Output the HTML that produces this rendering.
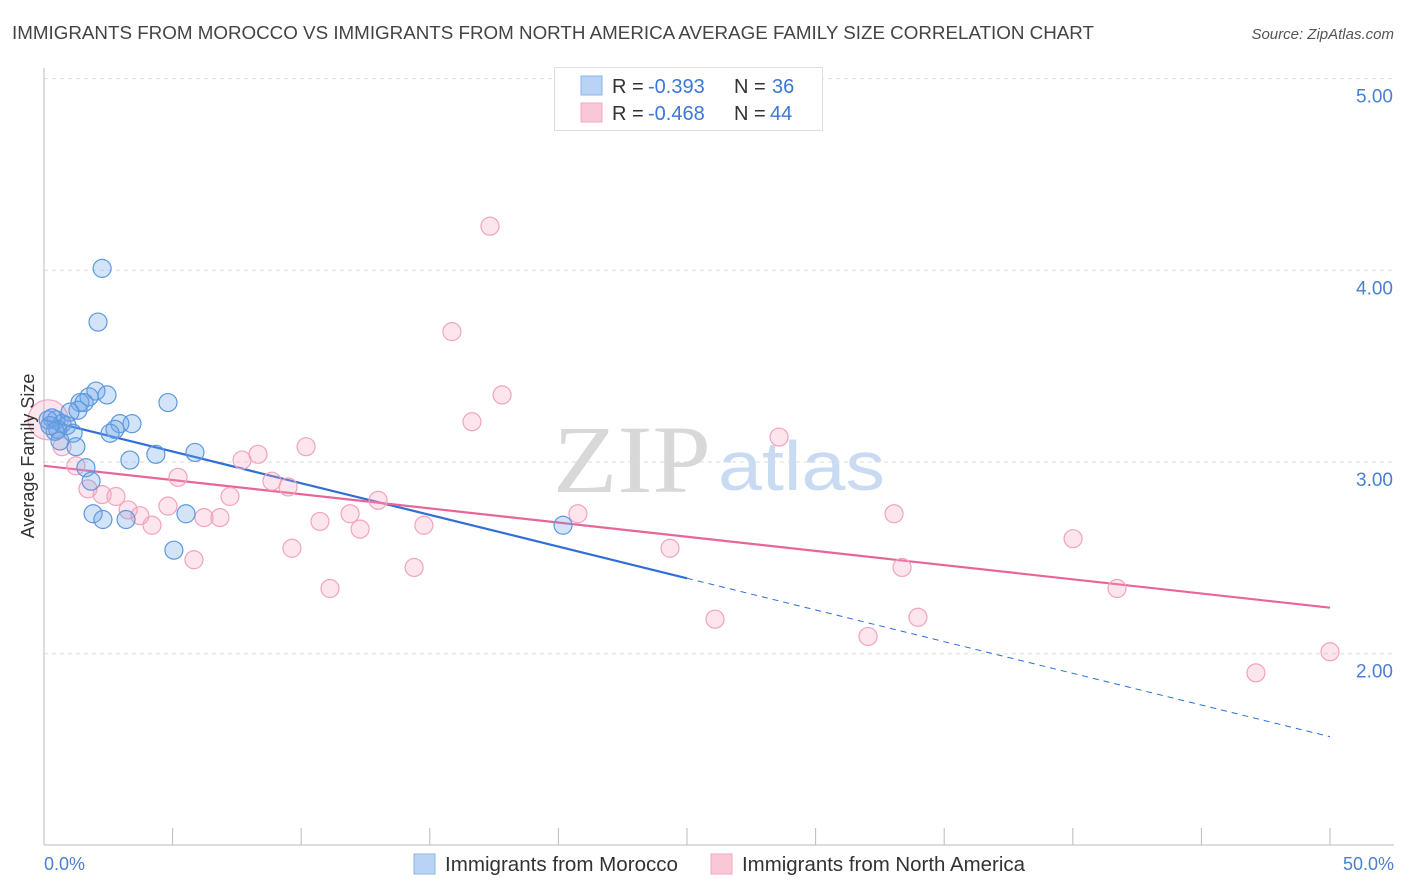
<!DOCTYPE html>
<html><head><meta charset="utf-8"><style>
body{margin:0;background:#fff;font-family:"Liberation Sans",sans-serif;}
svg{display:block}
</style></head><body>
<svg id="chart" width="1406" height="892">
<text x="12" y="39" font-size="18" fill="#444" textLength="1082" lengthAdjust="spacingAndGlyphs">IMMIGRANTS FROM MOROCCO VS IMMIGRANTS FROM NORTH AMERICA AVERAGE FAMILY SIZE CORRELATION CHART</text>
<text x="1394" y="39" font-size="15" fill="#555" font-style="italic" text-anchor="end">Source: ZipAtlas.com</text>
<g>
<text x="553" y="492" font-family="Liberation Serif,serif" font-size="96" fill="#d8d8d8" textLength="158" lengthAdjust="spacingAndGlyphs">ZIP</text>
<text x="718" y="490" font-size="70" fill="#c9dbf2" textLength="167" lengthAdjust="spacingAndGlyphs">atlas</text>
</g>
<g id="grid"></g>
<g id="axes"></g>
<g id="lines"></g>
<g id="points"></g>
<text transform="translate(34,456) rotate(-90)" font-size="18" fill="#333" text-anchor="middle">Average Family Size</text>
<text x="44" y="870" font-size="18" fill="#4a7fd4">0.0%</text>
<text x="1394" y="870" font-size="18" fill="#4a7fd4" text-anchor="end">50.0%</text>
<g>
<rect x="554.5" y="67.5" width="268" height="63" fill="#fff" stroke="#ddd"/>
<rect x="581" y="76" width="21" height="19" fill="#b9d3f5" stroke="#8ab4ea"/>
<rect x="581" y="103" width="21" height="19" fill="#f9c8d7" stroke="#f2a7be"/>
<text x="612" y="93" font-size="20" fill="#333">R = <tspan x="648" fill="#3b78d8">-0.393</tspan><tspan x="734">N = </tspan><tspan x="772" fill="#3b78d8">36</tspan></text>
<text x="612" y="120" font-size="20" fill="#333">R = <tspan x="648" fill="#3b78d8">-0.468</tspan><tspan x="734">N = </tspan><tspan x="770" fill="#3b78d8">44</tspan></text>
</g>
<g>
<rect x="414" y="854" width="21" height="20" fill="#b9d3f5" stroke="#8ab4ea"/>
<text x="445" y="871" font-size="20" fill="#333" textLength="233" lengthAdjust="spacingAndGlyphs">Immigrants from Morocco</text>
<rect x="711" y="854" width="21" height="20" fill="#f9c8d7" stroke="#f2a7be"/>
<text x="742" y="871" font-size="20" fill="#333" textLength="283" lengthAdjust="spacingAndGlyphs">Immigrants from North America</text>
</g>
</svg>
<script>
const yTicks=[2,3,4,5];
const yTickLabels=["2.00","3.00","4.00","5.00"];
const xTicks=[0,5,10,15,20,25,30,35,40,45,50];
const moroccoX=[2.26,2.10,2.02,2.45,1.75,1.40,1.56,1.32,1.01,0.31,0.47,0.70,0.89,0.16,0.54,1.13,0.43,2.95,3.42,2.76,2.57,4.82,1.24,3.34,4.35,5.87,1.63,1.83,1.91,2.29,3.19,5.52,5.05,20.18,0.62,0.23];
const moroccoY=[4.01,3.73,3.37,3.35,3.34,3.31,3.31,3.27,3.26,3.23,3.22,3.20,3.19,3.22,3.17,3.15,3.16,3.20,3.20,3.17,3.15,3.31,3.08,3.01,3.04,3.05,2.97,2.90,2.73,2.70,2.70,2.73,2.54,2.67,3.11,3.19];
const naX=[17.34,15.86,17.81,16.64,28.58,10.19,8.32,7.70,5.21,1.24,0.70,1.71,2.26,2.80,4.82,3.27,3.73,4.20,6.22,6.84,7.23,8.86,9.49,12.99,11.90,10.73,12.29,14.77,20.76,9.64,5.83,14.39,11.12,24.34,26.09,33.05,33.36,33.98,32.04,40.01,41.72,47.12,50.0,0.16];
const naY=[4.23,3.68,3.35,3.21,3.13,3.08,3.04,3.01,2.92,2.98,3.08,2.86,2.83,2.82,2.77,2.75,2.72,2.67,2.71,2.71,2.82,2.90,2.87,2.80,2.73,2.69,2.65,2.67,2.73,2.55,2.49,2.45,2.34,2.55,2.18,2.73,2.45,2.19,2.09,2.60,2.34,1.90,2.01,3.22];
const naR=[9,9,9,9,9,9,9,9,9,9,9,9,9,9,9,9,9,9,9,9,9,9,9,9,9,9,9,9,9,9,9,9,9,9,9,9,9,9,9,9,9,9,9,20];
const moroccoTrend=[3.22,1.567];
const naTrend=[2.98,2.24];
const moroccoSolidEnd=25;

const NS="http://www.w3.org/2000/svg";
const X=v=>44+v*(1330-44)/50;
const Y=v=>462-(v-3)*191.7;
function mk(t,a,p){const e=document.createElementNS(NS,t);for(const k in a)e.setAttribute(k,a[k]);p.appendChild(e);return e;}
const grid=document.getElementById('grid'),axes=document.getElementById('axes'),lines=document.getElementById('lines'),pts=document.getElementById('points');
yTicks.forEach((t,i)=>{
  const l=mk('line',{x1:44,x2:1394,y1:Y(t),y2:Y(t),stroke:'#ddd','stroke-dasharray':'4,4'},grid);
  
  
  const tx=mk('text',{x:1393,y:Y(t)+24,'font-size':19,fill:'#4a7fd4','text-anchor':'end'},grid);
  tx.textContent=yTickLabels[i];
  
  
});
const ya=mk('line',{x1:44,x2:44,y1:68,y2:845,stroke:'#bbb'},axes);


const xa=mk('line',{x1:44,x2:1394,y1:845,y2:845,stroke:'#bbb'},axes);


xTicks.forEach(t=>{
  const l=mk('line',{x1:X(t),x2:X(t),y1:828,y2:845,stroke:'#bbb'},axes);
  
  
});
function drawPts(xs,ys,rs,fill,stroke,name){
  xs.forEach((x,i)=>{
    const c=mk('circle',{cx:X(x),cy:Y(ys[i]),r:rs?rs[i]:9,fill:fill,stroke:stroke,'stroke-width':1.2},pts);
    
    
  });
}
drawPts(naX,naY,naR,'rgba(244,160,188,0.28)','#f2a3bd','point-north-america');
drawPts(moroccoX,moroccoY,null,'rgba(110,165,232,0.3)','#5d98e0','point-morocco');
const bm=(moroccoTrend[1]-moroccoTrend[0])/50;
const t1=mk('line',{x1:X(0),y1:Y(moroccoTrend[0]),x2:X(moroccoSolidEnd),y2:Y(moroccoTrend[0]+bm*moroccoSolidEnd),stroke:'#2f6fd6','stroke-width':2.2},lines);


const t2=mk('line',{x1:X(moroccoSolidEnd),y1:Y(moroccoTrend[0]+bm*moroccoSolidEnd),x2:X(50),y2:Y(moroccoTrend[1]),stroke:'#2f6fd6','stroke-width':1,'stroke-dasharray':'6,5'},lines);


const t3=mk('line',{x1:X(0),y1:Y(naTrend[0]),x2:X(50),y2:Y(naTrend[1]),stroke:'#e8649a','stroke-width':2.2},lines);


</script>
</body></html>
